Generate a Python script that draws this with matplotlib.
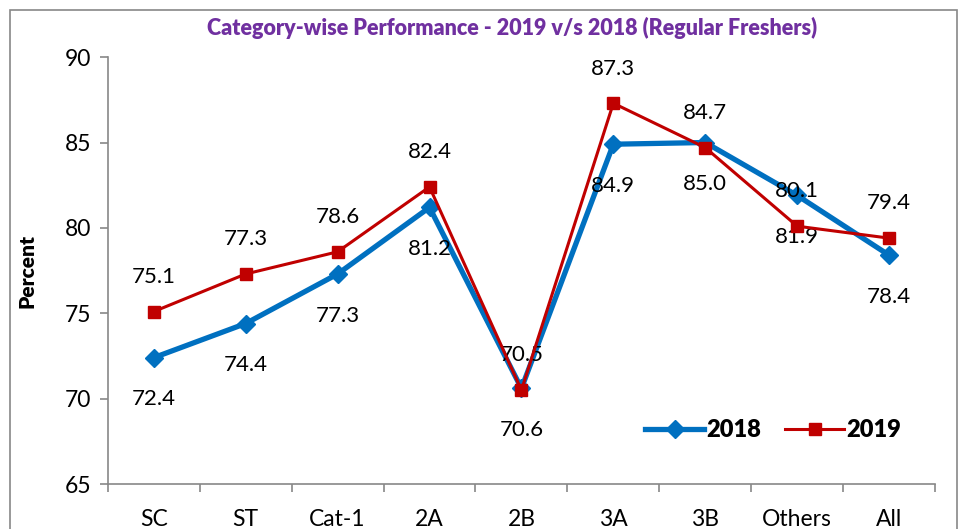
import matplotlib as mpl
from matplotlib import pyplot as plt
from matplotlib.patches import Rectangle
import numpy as np

mpl.rcParams["font.family"] = ["Lato", "DejaVu Sans"]

categories = ["SC", "ST", "Cat-1", "2A", "2B", "3A", "3B", "Others", "All"]
y2018 = [72.4, 74.4, 77.3, 81.2, 70.6, 84.9, 85.0, 81.9, 78.4]
y2019 = [75.1, 77.3, 78.6, 82.4, 70.5, 87.3, 84.7, 80.1, 79.4]

fig = plt.figure(figsize=(9.71, 5.29), dpi=100)
ax = fig.add_axes([0.111, 0.085, 0.852, 0.807])

# outer chart border
fig.patches.append(Rectangle((10 / 971, -0.05), 947 / 971, 1.05 - 10 / 529,
                             transform=fig.transFigure, fill=False,
                             edgecolor="#888888", linewidth=1.2))

x = np.arange(len(categories))
ax.plot(x, y2018, color="#0070C0", lw=3.8, marker="D", ms=9, label="2018", zorder=3)
ax.plot(x, y2019, color="#C00000", lw=2.2, marker="s", ms=8.5, label="2019", zorder=4)

for xi, v in zip(x, y2018):
    ax.annotate(f"{v:.1f}", (xi, v), xytext=(0, -30), textcoords="offset points",
                ha="center", va="center", fontsize=16)
for xi, v in zip(x, y2019):
    ax.annotate(f"{v:.1f}", (xi, v), xytext=(0, 25), textcoords="offset points",
                ha="center", va="center", fontsize=16)

ax.set_xlim(-0.5, len(categories) - 0.5)
ax.set_ylim(65, 90)
ax.set_yticks([65, 70, 75, 80, 85, 90])
ax.set_xticks(x)
ax.set_xticklabels(categories)
ax.set_xticks(np.arange(-0.5, len(categories)), minor=True)
ax.tick_params(axis="x", which="major", length=0, labelsize=16.5, pad=18)
ax.tick_params(axis="x", which="minor", length=6, color="#888888", width=1.2)
ax.tick_params(axis="y", length=6, color="#888888", width=1.2, labelsize=16.5, pad=6)

for s in ["top", "right"]:
    ax.spines[s].set_visible(False)
for s in ["left", "bottom"]:
    ax.spines[s].set_color("#888888")
    ax.spines[s].set_linewidth(1.2)

ax.set_ylabel("Percent", fontsize=15, fontweight="heavy", labelpad=20)
fig.text(0.527, 0.947, "Category-wise Performance - 2019 v/s 2018 (Regular Freshers)",
         ha="center", va="center", color="#7030A0", fontsize=15.5, fontweight="heavy")

leg = ax.legend(loc="lower right", bbox_to_anchor=(0.985, 0.05), ncol=2, frameon=False,
                prop={"size": 17, "weight": "heavy"}, handlelength=2.5,
                handletextpad=0.1, columnspacing=1.0)

fig.savefig("out.png", dpi=100)
